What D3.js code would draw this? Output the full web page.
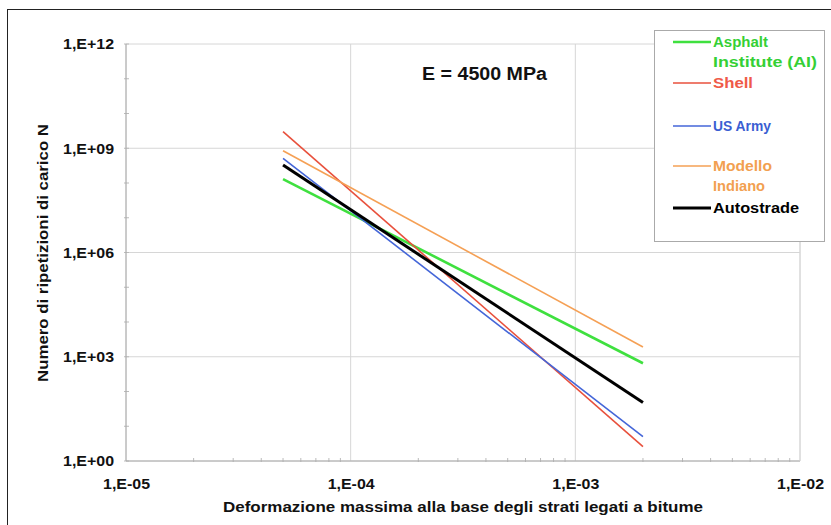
<!DOCTYPE html>
<html>
<head>
<meta charset="utf-8">
<script src="https://cdn.jsdelivr.net/npm/d3@7"></script>
<style>
  body { margin: 0; background: #fff; }
  svg { display: block; font-family: "Liberation Sans", Arial, sans-serif; }
</style>
</head>
<body>
<svg width="831" height="525"></svg>
<script>
// strain at the two ends of each fatigue law
var strainValues = [5e-5, 2e-3];

// number of load repetitions N
var aiValues = [1.3e8, 650];
var shellValues = [3.0e9, 2.6];
var usArmyValues = [5.1e8, 5];
var indianoValues = [8.5e8, 1.9e3];
var autostradeValues = [3.3e8, 48];

var seriesNames = ["Asphalt Institute (AI)", "Shell", "US Army", "Modello Indiano", "Autostrade"];
var xTickValues = [1e-5, 1e-4, 1e-3, 1e-2];
var xTickLabels = ["1,E-05", "1,E-04", "1,E-03", "1,E-02"];
var yTickValues = [1, 1e3, 1e6, 1e9, 1e12];
var yTickLabels = ["1,E+00", "1,E+03", "1,E+06", "1,E+09", "1,E+12"];

var svg = d3.select('svg');

// outer frame (runs off right and bottom like the picture)
svg.append('rect')
  .attr('x', 7.5).attr('y', 9.5)
  .attr('width', 900).attr('height', 600)
  .attr('fill', 'none').attr('stroke', '#222');

var x = d3.scaleLog().domain([1e-5, 1e-2]).range([126, 800]);
var y = d3.scaleLog().domain([1, 1e12]).range([461, 44]);

// grid
svg.append('g').selectAll('line')
  .data(xTickValues)
  .enter().append('line')
  .attr('x1', function (d) { return x(d); })
  .attr('x2', function (d) { return x(d); })
  .attr('y1', 44).attr('y2', 461)
  .attr('stroke', '#d6d6d6');

svg.append('g').selectAll('line')
  .data(yTickValues)
  .enter().append('line')
  .attr('y1', function (d) { return y(d); })
  .attr('y2', function (d) { return y(d); })
  .attr('x1', 126).attr('x2', 800)
  .attr('stroke', '#d6d6d6');

// minor ticks
var xMinor = [];
[1e-5, 1e-4, 1e-3].forEach(function (dec) {
  for (var k = 2; k < 10; k++) xMinor.push(k * dec);
});
svg.append('g').selectAll('line')
  .data(xMinor)
  .enter().append('line')
  .attr('x1', function (d) { return x(d); })
  .attr('x2', function (d) { return x(d); })
  .attr('y1', 458).attr('y2', 462)
  .attr('stroke', '#bbb');

var yMinor = d3.range(0, 13).map(function (p) { return Math.pow(10, p); });
svg.append('g').selectAll('line')
  .data(yMinor)
  .enter().append('line')
  .attr('y1', function (d) { return y(d); })
  .attr('y2', function (d) { return y(d); })
  .attr('x1', 124).attr('x2', 129)
  .attr('stroke', '#bbb');

// axis lines
svg.append('line').attr('x1', 126).attr('x2', 126).attr('y1', 44).attr('y2', 461).attr('stroke', '#aaa');
svg.append('line').attr('x1', 126).attr('x2', 800).attr('y1', 461).attr('y2', 461).attr('stroke', '#aaa');
svg.append('line').attr('x1', 800).attr('x2', 800).attr('y1', 44).attr('y2', 461).attr('stroke', '#d6d6d6');

// axes
var xAxis = svg.append('g')
  .attr('transform', 'translate(0,461)')
  .call(d3.axisBottom(x).tickValues(xTickValues)
    .tickFormat(function (d, i) { return xTickLabels[i]; })
    .tickSize(0).tickPadding(17));
xAxis.select('.domain').remove();
xAxis.selectAll('text')
  .attr('fill', '#111')
  .style('font-size', '15px').style('font-weight', 'bold')
  .attr('textLength', 47).attr('lengthAdjust', 'spacingAndGlyphs');

var yAxis = svg.append('g')
  .attr('transform', 'translate(126,0)')
  .call(d3.axisLeft(y).tickValues(yTickValues)
    .tickFormat(function (d, i) { return yTickLabels[i]; })
    .tickSize(0).tickPadding(12));
yAxis.select('.domain').remove();
yAxis.selectAll('text')
  .attr('fill', '#111')
  .style('font-size', '15px').style('font-weight', 'bold')
  .attr('textLength', 51).attr('lengthAdjust', 'spacingAndGlyphs');

// axis titles
svg.append('text')
  .attr('x', 463).attr('y', 512)
  .attr('text-anchor', 'middle')
  .style('font-size', '14px').style('font-weight', 'bold')
  .attr('fill', '#111')
  .attr('textLength', 480).attr('lengthAdjust', 'spacingAndGlyphs')
  .text('Deformazione massima alla base degli strati legati a bitume');

svg.append('text')
  .attr('transform', 'translate(48,253) rotate(-90)')
  .attr('text-anchor', 'middle')
  .style('font-size', '14px').style('font-weight', 'bold')
  .attr('fill', '#111')
  .attr('textLength', 258).attr('lengthAdjust', 'spacingAndGlyphs')
  .text('Numero di ripetizioni di carico N');

// annotation
svg.append('text')
  .attr('x', 422).attr('y', 80)
  .style('font-size', '18px').style('font-weight', 'bold')
  .attr('fill', '#111')
  .attr('textLength', 125).attr('lengthAdjust', 'spacingAndGlyphs')
  .text('E = 4500 MPa');

// series
var series = [
  { name: seriesNames[0], values: aiValues, color: '#3fe03f', text: '#35d035', width: 2.6 },
  { name: seriesNames[1], values: shellValues, color: '#e8503c', text: '#ef5a48', width: 1.6 },
  { name: seriesNames[2], values: usArmyValues, color: '#4466d8', text: '#3a5ed2', width: 1.6 },
  { name: seriesNames[3], values: indianoValues, color: '#f5a055', text: '#f2a050', width: 1.6 },
  { name: seriesNames[4], values: autostradeValues, color: '#000', text: '#000', width: 3 }
];

var line = d3.line()
  .x(function (d) { return x(d[0]); })
  .y(function (d) { return y(d[1]); });

svg.append('g').selectAll('path')
  .data(series)
  .enter().append('path')
  .attr('d', function (s) {
    return line(strainValues.map(function (v, i) { return [v, s.values[i]]; }));
  })
  .attr('fill', 'none')
  .attr('stroke', function (s) { return s.color; })
  .attr('stroke-width', function (s) { return s.width; });

// legend
var legend = svg.append('g');
legend.append('rect')
  .attr('x', 654.5).attr('y', 30.5)
  .attr('width', 170).attr('height', 211)
  .attr('fill', '#fff').attr('stroke', '#aaa');

var legendRows = [
  { s: 0, lines: ['Asphalt', 'Institute (AI)'], y: 42, w: [55, 104] },
  { s: 1, lines: ['Shell'], y: 83, w: [40] },
  { s: 2, lines: ['US Army'], y: 126, w: [58] },
  { s: 3, lines: ['Modello', 'Indiano'], y: 166, w: [59, 52] },
  { s: 4, lines: ['Autostrade'], y: 208, w: [86] }
];

legendRows.forEach(function (r) {
  var s = series[r.s];
  legend.append('line')
    .attr('x1', 673).attr('x2', 711)
    .attr('y1', r.y).attr('y2', r.y)
    .attr('stroke', s.color)
    .attr('stroke-width', s.width);
  r.lines.forEach(function (t, j) {
    legend.append('text')
      .attr('x', 713).attr('y', r.y + 5 + j * 20)
      .style('font-size', '14px').style('font-weight', 'bold')
      .attr('fill', s.text)
      .attr('textLength', r.w[j]).attr('lengthAdjust', 'spacingAndGlyphs')
      .text(t);
  });
});
</script>
</body>
</html>
